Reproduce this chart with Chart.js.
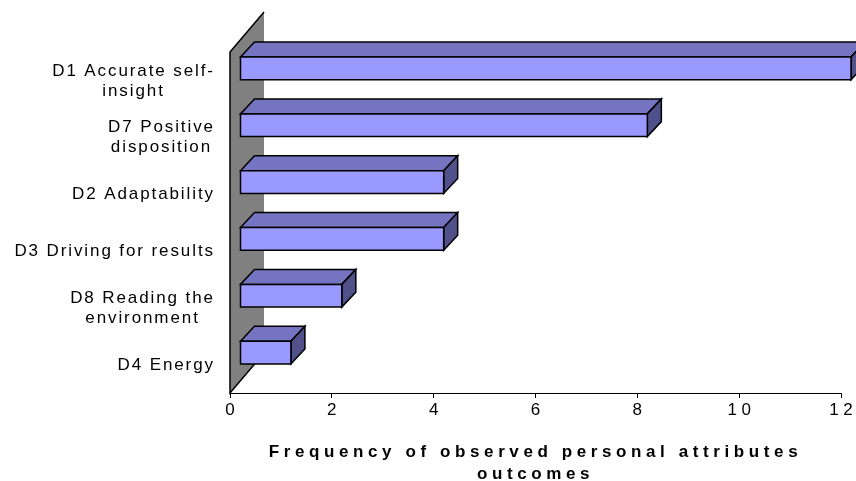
<!DOCTYPE html>
<html>
<head>
<meta charset="utf-8">
<script src="https://cdn.jsdelivr.net/npm/chart.js@4/dist/chart.umd.min.js"></script>
<style>
  html, body { margin: 0; padding: 0; background: #fff; }
  canvas { display: block; }
</style>
</head>
<body>
<canvas id="c" width="856" height="481" style="width:856px;height:481px"></canvas>
<script>
// Categories (multi-line labels), top to bottom
const categories = [
  ['D1 Accurate self-', 'insight'],
  ['D7 Positive', 'disposition'],
  ['D2 Adaptability'],
  ['D3 Driving for results'],
  ['D8 Reading the', 'environment'],
  ['D4 Energy']
];
// Frequency of each attribute
const frequencies = [12, 8, 4, 4, 2, 1];
// Value axis range and step
const axisMin = 0;
const axisMax = 12;
const axisStep = 2;
const axisTitle = ['Frequency of observed personal attributes', 'outcomes'];

const FONT = '"Liberation Sans", Arial, Helvetica, sans-serif';
const FRONT = '#9999FF';
const TOP = '#7474C0';
const SIDE = '#50508A';
const WALL = '#808080';

// depth of the back wall, and where the bars sit inside it
const WALL_DX = 34, WALL_DY = -40;
const BAR_FX = 10, BAR_FY = -12;     // front face offset from the front plane
const BAR_DX = 14, BAR_DY = -15;     // bar depth

const AXIS_SPACING = 4.6;            // letter spacing for value axis text
Chart.defaults.font.family = FONT;

const pseudo3d = {
  id: 'pseudo3d',
  beforeDraw(chart) {
    const { ctx, chartArea: a } = chart;
    ctx.letterSpacing = AXIS_SPACING + 'px';
    // back wall
    ctx.save();
    ctx.beginPath();
    ctx.moveTo(a.left, a.bottom);
    ctx.lineTo(a.left, a.top);
    ctx.lineTo(a.left + WALL_DX, a.top + WALL_DY);
    ctx.lineTo(a.left + WALL_DX, a.bottom + WALL_DY);
    ctx.closePath();
    ctx.fillStyle = WALL;
    ctx.fill();
    ctx.beginPath();
    ctx.moveTo(a.left + WALL_DX, a.bottom + WALL_DY);
    ctx.lineTo(a.left, a.bottom);
    ctx.lineTo(a.left, a.top);
    ctx.lineTo(a.left + WALL_DX, a.top + WALL_DY);
    ctx.strokeStyle = '#000';
    ctx.lineWidth = 1.5;
    ctx.stroke();
    ctx.restore();
  },
  beforeDatasetsDraw(chart) {
    const { ctx } = chart;
    const meta = chart.getDatasetMeta(0);
    ctx.save();
    ctx.strokeStyle = '#000';
    ctx.lineWidth = 1.5;
    ctx.lineJoin = 'miter';
    meta.data.forEach((el) => {
      const p = el.getProps(['x', 'y', 'base', 'height'], true);
      const x0 = p.base + BAR_FX, x1 = p.x + BAR_FX;
      const y0 = p.y - p.height / 2 + BAR_FY, y1 = p.y + p.height / 2 + BAR_FY;
      // top face
      ctx.beginPath();
      ctx.moveTo(x0, y0);
      ctx.lineTo(x0 + BAR_DX, y0 + BAR_DY);
      ctx.lineTo(x1 + BAR_DX, y0 + BAR_DY);
      ctx.lineTo(x1, y0);
      ctx.closePath();
      ctx.fillStyle = TOP;
      ctx.fill();
      ctx.stroke();
      // end face
      ctx.beginPath();
      ctx.moveTo(x1, y0);
      ctx.lineTo(x1 + BAR_DX, y0 + BAR_DY);
      ctx.lineTo(x1 + BAR_DX, y1 + BAR_DY);
      ctx.lineTo(x1, y1);
      ctx.closePath();
      ctx.fillStyle = SIDE;
      ctx.fill();
      ctx.stroke();
      // front face
      ctx.beginPath();
      ctx.rect(x0, y0, x1 - x0, y1 - y0);
      ctx.fillStyle = FRONT;
      ctx.fill();
      ctx.stroke();
    });
    ctx.restore();
    return false;
  },
  afterDraw(chart) {
    // category labels: block right-aligned, lines centred on each other
    const { ctx } = chart;
    const yScale = chart.scales.y;
    const spacing = 1.9;
    const right = 213;
    const lh = 20;
    ctx.save();
    ctx.font = '17px ' + FONT;
    ctx.letterSpacing = spacing + 'px';
    ctx.fillStyle = '#000';
    ctx.textAlign = 'left';
    ctx.textBaseline = 'middle';
    categories.forEach((lines, i) => {
      const cy = yScale.getPixelForValue(i) + 0.5;
      const widths = lines.map(t => ctx.measureText(t).width - spacing);
      const maxW = Math.max(...widths);
      const cx = right - maxW / 2;
      lines.forEach((t, j) => {
        const y = cy + (j - (lines.length - 1) / 2) * lh;
        ctx.fillText(t, cx - widths[j] / 2, y);
      });
    });
    ctx.restore();
  }
};

new Chart(document.getElementById('c'), {
  type: 'bar',
  data: {
    labels: categories,
    datasets: [{
      data: frequencies,
      backgroundColor: FRONT,
      borderColor: '#000',
      borderWidth: 1,
      categoryPercentage: 1,
      barPercentage: 0.4
    }]
  },
  options: {
    indexAxis: 'y',
    responsive: false,
    animation: false,
    devicePixelRatio: 1,
    layout: { padding: { left: 230, top: 52, right: 15, bottom: 0 } },
    plugins: { legend: { display: false }, tooltip: { enabled: false } },
    scales: {
      x: {
        min: axisMin,
        max: axisMax,
        ticks: { stepSize: axisStep, color: '#000', font: { size: 17 }, padding: 2, labelOffset: AXIS_SPACING / 2, maxRotation: 0 },
        grid: { drawOnChartArea: false, drawTicks: true, tickLength: 5, color: '#000', lineWidth: 1 },
        border: { display: true, color: '#000', width: 1 },
        title: {
          display: true,
          text: axisTitle,
          color: '#000',
          font: { size: 17, weight: 'bold', lineHeight: 22 / 17 },
          padding: { top: 0, bottom: -4 }
        },
        afterFit(s) { s.height = 88; s.paddingLeft = 0; s.paddingRight = 0; }
      },
      y: { display: false }
    }
  },
  plugins: [pseudo3d]
});
</script>
</body>
</html>
